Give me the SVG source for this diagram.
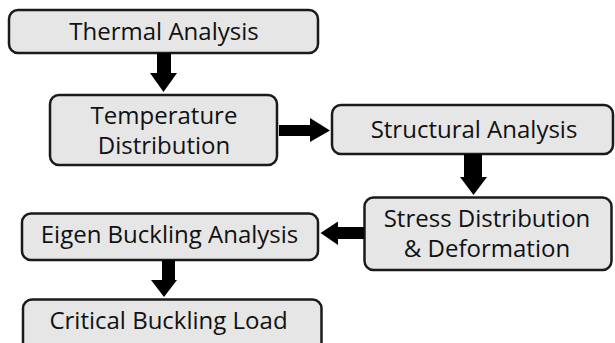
<svg xmlns="http://www.w3.org/2000/svg" width="615" height="343" viewBox="0 0 615 343">
<style>
.box{fill:#e6e6e6;stroke:#1a1a1a;stroke-width:2.5}
.t{font-family:"Open Sans","Noto Sans",sans-serif;font-size:24px;fill:#111;text-anchor:middle}
.arr{fill:#000}
</style>
<rect width="615" height="343" fill="#fff"/>
<g id="thermal">
<rect class="box" x="9" y="10" width="309" height="43" rx="9"/>
<text class="t" x="164" y="40">Thermal Analysis</text>
</g>
<g id="temperature">
<rect class="box" x="50" y="95" width="227" height="70" rx="9"/>
<text class="t" x="164" y="124">Temperature</text>
<text class="t" x="164" y="154">Distribution</text>
</g>
<g id="structural">
<rect class="box" x="332" y="105" width="281" height="49" rx="9"/>
<text class="t" x="474" y="138">Structural Analysis</text>
</g>
<g id="stress">
<rect class="box" x="364.5" y="197.5" width="247" height="72.5" rx="9"/>
<text class="t" x="487" y="227">Stress Distribution</text>
<text class="t" x="487" y="257">&amp; Deformation</text>
</g>
<g id="eigen">
<rect class="box" x="22" y="213.5" width="296" height="46.5" rx="9"/>
<text class="t" x="169.5" y="243">Eigen Buckling Analysis</text>
</g>
<g id="critical">
<rect class="box" x="23" y="299.5" width="298.5" height="56" rx="9"/>
<text class="t" x="168.5" y="329">Critical Buckling Load</text>
</g>
<g id="connectors">
<polygon class="arr" points="157,53 171,53 171,73 177,73 163.5,92 150,73 157,73"/>
<polygon class="arr" points="279,125 310,125 310,118 330,130.5 310,142 310,136 279,136"/>
<polygon class="arr" points="464,154 482,154 482,177 487,177 473.5,195 460,177 464,177"/>
<polygon class="arr" points="364,227 338,227 338,221.5 320.5,233 338,245 338,239 364,239"/>
<polygon class="arr" points="162,260 175,260 175,280 177,280 164,297 151,280 162,280"/>
</g>
</svg>
